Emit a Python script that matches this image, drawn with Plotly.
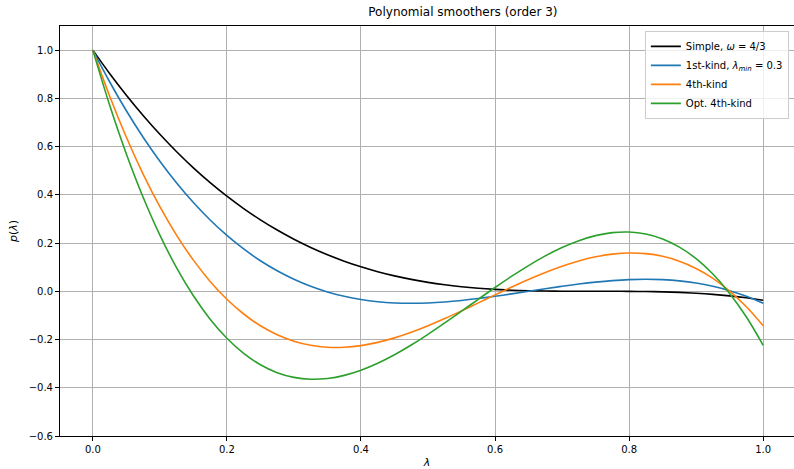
import plotly.graph_objects as go

lam = [0.0, 0.025, 0.05, 0.075, 0.10, 0.125, 0.15, 0.175, 0.20, 0.225, 0.25, 0.275, 0.30, 0.325,
       0.35, 0.375, 0.40, 0.425, 0.45, 0.475, 0.50, 0.525, 0.55, 0.575, 0.60, 0.625, 0.65, 0.675,
       0.70, 0.725, 0.75, 0.775, 0.80, 0.825, 0.85, 0.875, 0.90, 0.925, 0.95, 0.975, 1.00]

simple = [1.0, 0.90330, 0.81304, 0.729, 0.65096, 0.57870, 0.512, 0.45063, 0.39437, 0.343, 0.29630,
          0.25404, 0.216, 0.18196, 0.15170, 0.125, 0.10163, 0.08137, 0.064, 0.04930, 0.03704,
          0.027, 0.01896, 0.01270, 0.008, 0.00463, 0.00237, 0.001, 0.000296, 0.000037, 0.0,
          -0.000037, -0.000296, -0.001, -0.00237, -0.00463, -0.008, -0.01270, -0.01896, -0.027, -0.03704]

first_kind = [1.0, 0.86882, 0.74858, 0.63880, 0.53905, 0.44889, 0.36789, 0.29562, 0.23164, 0.17551, 0.12680,
              0.08507, 0.04988, 0.02079, -0.002617, -0.02079, -0.03417, -0.04319, -0.04828, -0.04988, -0.04842,
              -0.04435, -0.03810, -0.03010, -0.02079, -0.01062, 0.0, 0.01062, 0.02079, 0.03010, 0.03810,
              0.04435, 0.04842, 0.04988, 0.04828, 0.04319, 0.03417, 0.02079, 0.002617, -0.02079, -0.04988]

fourth_kind = [1.0, 0.80986, 0.63886, 0.48614, 0.35086, 0.23214, 0.12914, 0.04100, -0.03314, -0.09414, -0.14286,
               -0.18014, -0.20686, -0.22386, -0.23200, -0.23214, -0.22514, -0.21186, -0.19314, -0.16986, -0.14286,
               -0.11300, -0.08114, -0.04814, -0.01486, 0.01786, 0.04914, 0.07814, 0.10400, 0.12586, 0.14286,
               0.15414, 0.15886, 0.15614, 0.14514, 0.125, 0.09486, 0.05386, 0.00114, -0.06414, -0.14286]

opt_fourth = [1.0, 0.77247, 0.56958, 0.39017, 0.23310, 0.09722, -0.01862, -0.11557, -0.19475, -0.25735, -0.30448,
              -0.33732, -0.35699, -0.36466, -0.36146, -0.34854, -0.32706, -0.29815, -0.26297, -0.22267, -0.17838,
              -0.13126, -0.08247, -0.03312, 0.01562, 0.06259, 0.10666, 0.14667, 0.18148, 0.20997, 0.23092,
              0.24326, 0.24579, 0.23738, 0.21689, 0.18320, 0.13511, 0.07149, -0.00888, -0.10682, -0.224]

series = [
    ("Simple, <i>ω</i> = 4/3", simple, "black"),
    ("1st-kind, <i>λ</i><sub><i>min</i></sub> = 0.3", first_kind, "#1f77b4"),
    ("4th-kind", fourth_kind, "#ff7f0e"),
    ("Opt. 4th-kind", opt_fourth, "#2ca02c"),
]

xticks = [0.0, 0.2, 0.4, 0.6, 0.8, 1.0]
yticks = [-0.6, -0.4, -0.2, 0.0, 0.2, 0.4, 0.6, 0.8, 1.0]

fig = go.Figure()
for name, vals, col in series:
    fig.add_trace(go.Scatter(x=lam, y=vals, mode="lines", name=name,
                             line=dict(color=col, width=1.6, shape="spline", smoothing=1.0)))

font = "DejaVu Sans, sans-serif"
fig.update_layout(
    width=794, height=469,
    margin=dict(l=60, r=0, t=26, b=33),
    paper_bgcolor="white", plot_bgcolor="white",
    font=dict(family=font, size=10, color="black"),
    title=dict(text="Polynomial smoothers (order 3)", x=0.583, xanchor="center",
               y=1 - 12 / 469, yanchor="middle", font=dict(size=12, color="black")),
    showlegend=True,
    legend=dict(x=0.993, y=0.988, xanchor="right", yanchor="top",
                bgcolor="rgba(255,255,255,0.8)", bordercolor="#cccccc", borderwidth=1,
                font=dict(size=10, family=font), tracegroupgap=0, itemwidth=30),
)
fig.update_xaxes(range=[-0.049, 1.046], tickvals=xticks, tickformat=".1f",
                 showgrid=True, gridcolor="#b0b0b0", gridwidth=1,
                 showline=True, linecolor="black", linewidth=1, mirror=True,
                 ticks="outside", ticklen=4, tickcolor="black", zeroline=False,
                 title=dict(text="<i>λ</i>", standoff=4, font=dict(size=11)))
fig.update_yaxes(range=[-0.6, 1.1], tickvals=yticks, tickformat=".1f",
                 showgrid=True, gridcolor="#b0b0b0", gridwidth=1,
                 showline=True, linecolor="black", linewidth=1, mirror=True,
                 ticks="outside", ticklen=4, tickcolor="black", zeroline=False,
                 title=dict(text="<i>p</i>(<i>λ</i>)", standoff=8, font=dict(size=11)))

fig.write_html("out.html")
